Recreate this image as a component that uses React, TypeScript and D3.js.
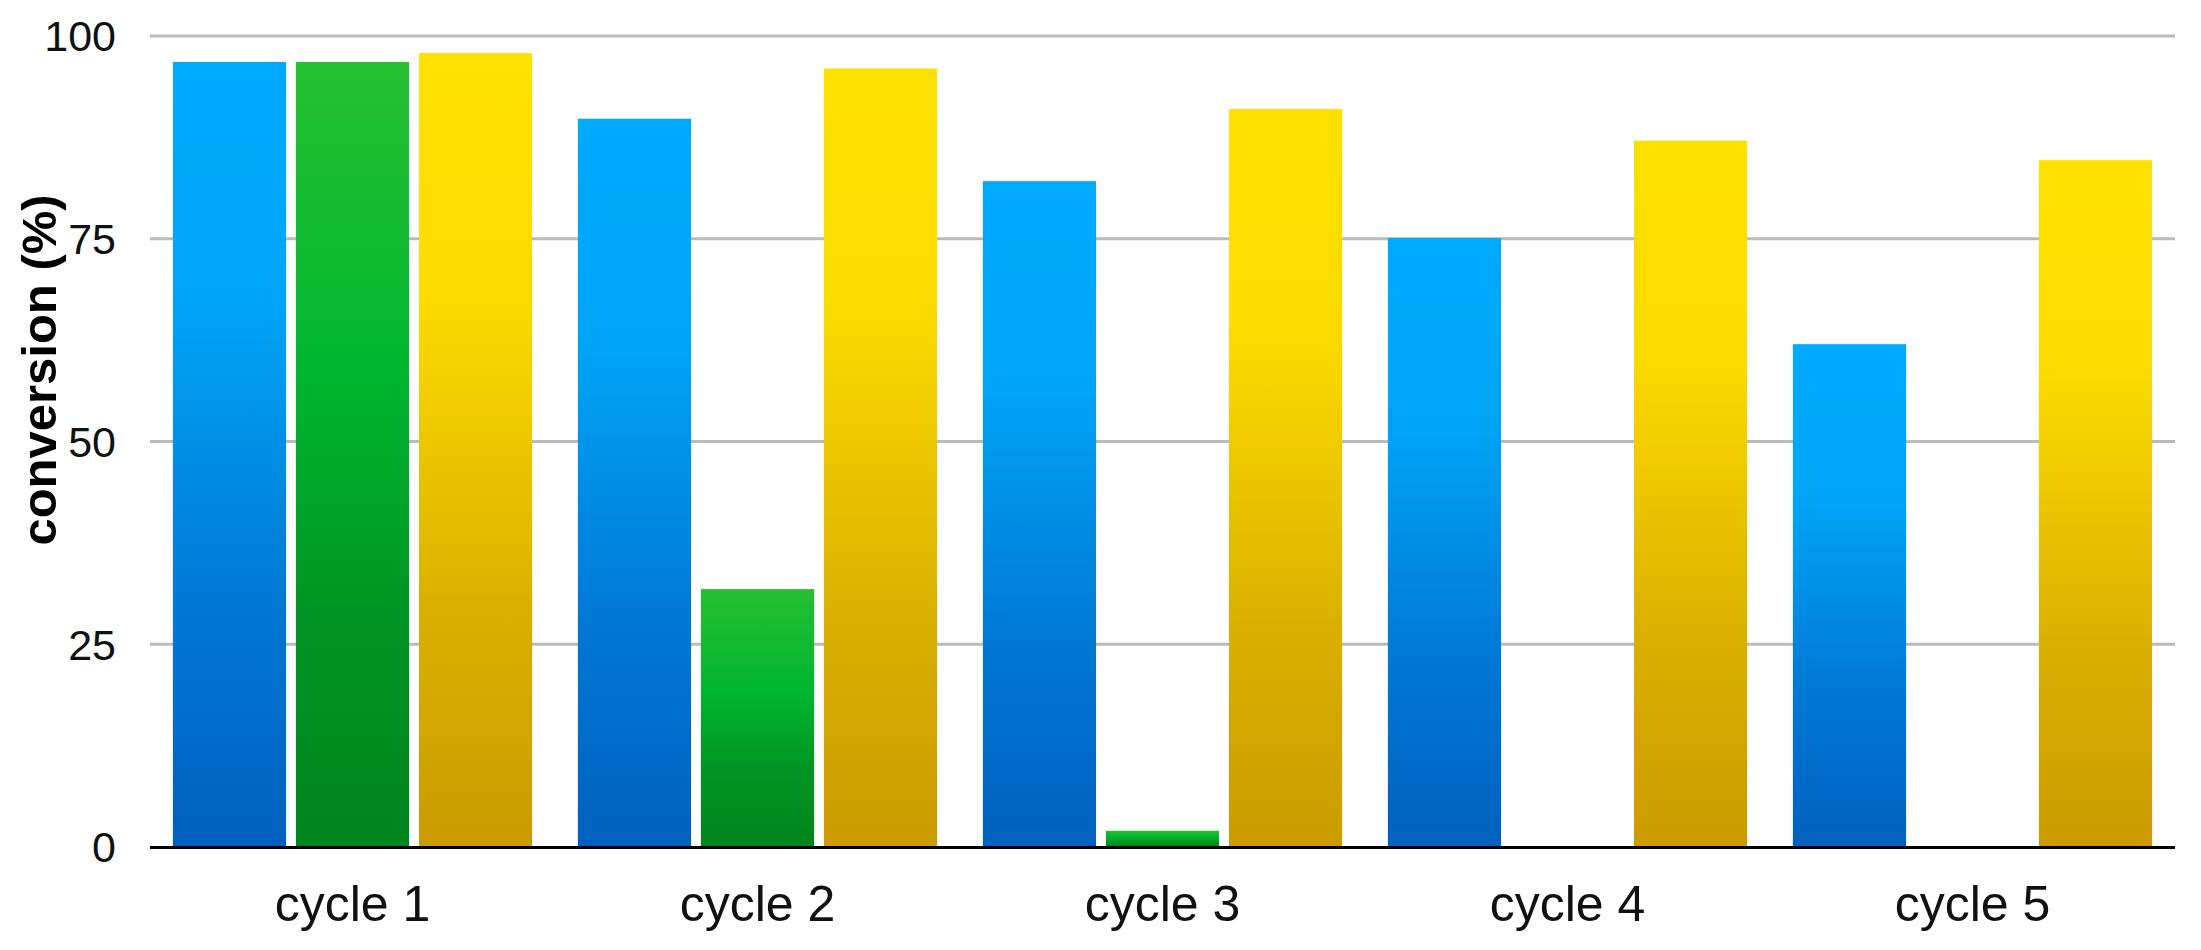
import React from "react";
import * as d3 from "d3";

const cycles = ["cycle 1", "cycle 2", "cycle 3", "cycle 4", "cycle 5"];
const seriesNames = ["blue", "green", "yellow"];
const blueValues = [96.8, 89.8, 82.1, 75.1, 62.0];
const greenValues = [96.8, 31.8, 2.0, 0, 0];
const yellowValues = [97.9, 96.0, 91.0, 87.1, 84.7];
const yTicks = [0, 25, 50, 75, 100];
const yTitle = "conversion (%)";

const gradients: Record<string, [number, string][]> = {
  blue: [
    [0, "#00AAFF"],
    [0.3, "#00A5F7"],
    [0.7, "#0077D4"],
    [1, "#0060BF"],
  ],
  green: [
    [0, "#26C032"],
    [0.4, "#00B530"],
    [0.7, "#009522"],
    [1, "#00841C"],
  ],
  yellow: [
    [0, "#FFE100"],
    [0.3, "#FCDC00"],
    [0.7, "#DAB000"],
    [1, "#CB9B00"],
  ],
};

const W = 2201;
const H = 950;

export default function App() {
  const valuesBySeries: Record<string, number[]> = {
    blue: blueValues,
    green: greenValues,
    yellow: yellowValues,
  };

  const x0 = d3.scaleBand<string>().domain(cycles).range([150, 2175]).paddingInner(0).paddingOuter(0);
  const x1 = d3
    .scaleBand<string>()
    .domain(seriesNames)
    .range([0, x0.bandwidth()])
    .paddingInner(0.08)
    .paddingOuter(0.186);
  const y = d3.scaleLinear().domain([0, 100]).range([847, 36]);

  const [xl, xr] = x0.range();
  const font = "'Liberation Sans', Arial, sans-serif";

  return (
    <svg
      width={W}
      height={H}
      viewBox={`0 0 ${W} ${H}`}
      style={{ position: "absolute", left: 0, top: 0, background: "#fff" }}
    >
      <defs>
        {seriesNames.map((s) => (
          <linearGradient key={s} id={`grad-${s}`} x1="0" y1="0" x2="0" y2="1">
            {gradients[s].map(([o, c]) => (
              <stop key={o} offset={o} stopColor={c} />
            ))}
          </linearGradient>
        ))}
      </defs>
      <rect x={0} y={0} width={W} height={H} fill="#fff" />

      {/* gridlines */}
      {yTicks
        .filter((t) => t !== 0)
        .map((t) => (
          <line key={t} x1={xl} x2={xr} y1={y(t)} y2={y(t)} stroke="#BBBBBB" strokeWidth={3} />
        ))}

      {/* bars */}
      {cycles.map((c, i) => (
        <g key={c} transform={`translate(${x0(c)},0)`}>
          {seriesNames.map((s) => {
            const v = valuesBySeries[s][i];
            if (!v) return null;
            return (
              <rect
                key={s}
                x={x1(s)}
                y={y(v)}
                width={x1.bandwidth()}
                height={y(0) - y(v)}
                fill={`url(#grad-${s})`}
              />
            );
          })}
        </g>
      ))}

      {/* x axis line */}
      <line x1={xl} x2={xr} y1={y(0) + 0.5} y2={y(0) + 0.5} stroke="#000" strokeWidth={3} />

      {/* y tick labels */}
      {yTicks.map((t) => (
        <text
          key={t}
          x={116}
          y={y(t)}
          dy="0.36em"
          textAnchor="end"
          fontFamily={font}
          fontSize={43}
          fill="#111"
        >
          {t}
        </text>
      ))}

      {/* x labels */}
      {cycles.map((c) => (
        <text
          key={c}
          x={(x0(c) as number) + x0.bandwidth() / 2}
          y={921}
          textAnchor="middle"
          fontFamily={font}
          fontSize={50}
          fill="#111"
        >
          {c}
        </text>
      ))}

      {/* y title */}
      <text
        transform={`translate(56, 370) rotate(-90)`}
        textAnchor="middle"
        fontFamily={font}
        fontWeight="bold"
        fontSize={49}
        fill="#000"
      >
        {yTitle}
      </text>
    </svg>
  );
}
